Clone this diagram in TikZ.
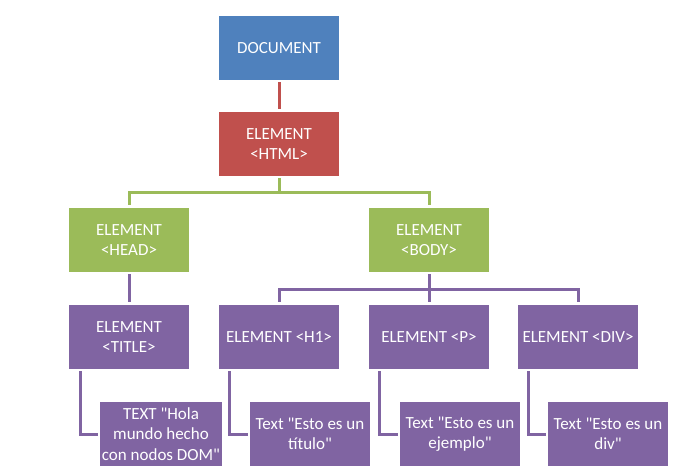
\documentclass[tikz,border=0pt]{standalone}
\usepackage{fontspec}
\setmainfont{Carlito}
\usetikzlibrary{positioning}
\definecolor{docblue}{HTML}{4F81BD}
\definecolor{htmlred}{HTML}{C0504D}
\definecolor{headgreen}{HTML}{9BBB59}
\definecolor{leafpurple}{HTML}{8064A2}
\newcommand{\dq}{\textquotedbl}
\begin{document}
\begin{tikzpicture}[x=1pt,y=1pt,
  box/.style={draw=white,line width=1pt,text=white,align=center,
    minimum width=121pt,minimum height=65pt,inner sep=2pt,
    font=\fontsize{17pt}{20.5pt}\selectfont},
  link/.style={line width=3pt,shorten <=1.5pt,shorten >=1.5pt}]
  \useasboundingbox (0,0) rectangle (682,471);
  % Draw top boxes
  \node[box,fill=docblue]   (doc)  at (279,423) {DOCUMENT};
  \node[box,fill=htmlred]   (html) at (279,327) {ELEMENT\\<HTML>};
  \node[box,fill=headgreen] (head) at (129,231) {ELEMENT\\<HEAD>};
  \node[box,fill=headgreen] (body) at (429,231) {ELEMENT\\<BODY>};
  % Draw element boxes
  \node[box,fill=leafpurple] (title) at (129,134) {ELEMENT\\<TITLE>};
  \node[box,fill=leafpurple] (hone)  at (279,134) {ELEMENT <H1>};
  \node[box,fill=leafpurple] (para)  at (429,134) {ELEMENT <P>};
  \node[box,fill=leafpurple] (div)   at (578,134) {ELEMENT <DIV>};
  % Draw text boxes
  \node[box,fill=leafpurple] (ttitle) at (161,37) {TEXT \dq Hola\\mundo hecho\\con nodos DOM\dq};
  \node[box,fill=leafpurple] (thone)  at (310,37) {Text \dq Esto es un\\título\dq};
  \node[box,fill=leafpurple] (tpara)  at (460,37) {Text \dq Esto es un\\ejemplo\dq};
  \node[box,fill=leafpurple] (tdiv)   at (608,37) {Text \dq Esto es un\\div\dq};
  % Draw connectors
  \draw[link,htmlred] (doc) -- (html);
  \draw[link,headgreen] (html.south) -- ++(0,-16) -| (head.north);
  \draw[link,headgreen] (html.south) -- ++(0,-16) -| (body.north);
  \draw[link,leafpurple] (head) -- (title);
  \draw[link,leafpurple] (body.south) -- ++(0,-17) -| (hone.north);
  \draw[link,leafpurple] (body.south) -- ++(0,-17) -| (para.north);
  \draw[link,leafpurple] (body.south) -- ++(0,-17) -| (div.north);
  \draw[link,leafpurple] ([xshift=12pt]title.south west) |- (ttitle.west);
  \draw[link,leafpurple] ([xshift=11pt]hone.south west) |- (thone.west);
  \draw[link,leafpurple] ([xshift=11pt]para.south west) |- (tpara.west);
  \draw[link,leafpurple] ([xshift=11pt]div.south west) |- (tdiv.west);
\end{tikzpicture}
\end{document}
